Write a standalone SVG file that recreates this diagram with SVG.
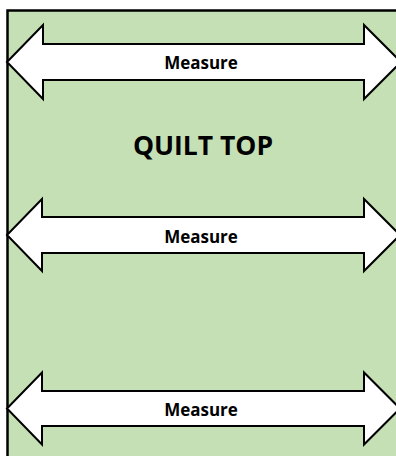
<svg xmlns="http://www.w3.org/2000/svg" width="396" height="456" viewBox="0 0 396 456">
<defs>
<style>
.arrow{fill:#FFFFFF;stroke:#000000;stroke-width:2;stroke-linejoin:miter}
.lbl{font-family:"Open Sans","Liberation Sans",sans-serif;font-weight:bold;font-size:17px;fill:#000000;text-anchor:middle}
.title{font-family:"Open Sans","Liberation Sans",sans-serif;font-weight:bold;font-size:26.5px;fill:#000000;text-anchor:middle}
</style>
</defs>
<rect width="396" height="456" fill="#FFFFFF"/>
<g id="quilt-top">
<rect x="7.5" y="10.5" width="400" height="460" fill="#C5E0B4" stroke="#000000" stroke-width="2.5"/>
<text class="title" x="203" y="155">QUILT TOP</text>
</g>
<g id="measure-1">
<path class="arrow" d="M7,62 L43,25 L43,44 L364,44 L364,25 L401,62 L364,99 L364,80 L43,80 L43,99 Z"/>
<text class="lbl" x="201" y="69">Measure</text>
</g>
<g id="measure-2">
<path class="arrow" d="M7,235 L42,199 L42,217 L364,217 L364,199 L400,235 L364,271 L364,253 L42,253 L42,271 Z"/>
<text class="lbl" x="201" y="243">Measure</text>
</g>
<g id="measure-3">
<path class="arrow" d="M7,408.5 L42,372.5 L42,391 L364,391 L364,372.5 L400,408.5 L364,444.5 L364,426 L42,426 L42,444.5 Z"/>
<text class="lbl" x="201" y="416">Measure</text>
</g>
<g id="connectors"/>
</svg>
